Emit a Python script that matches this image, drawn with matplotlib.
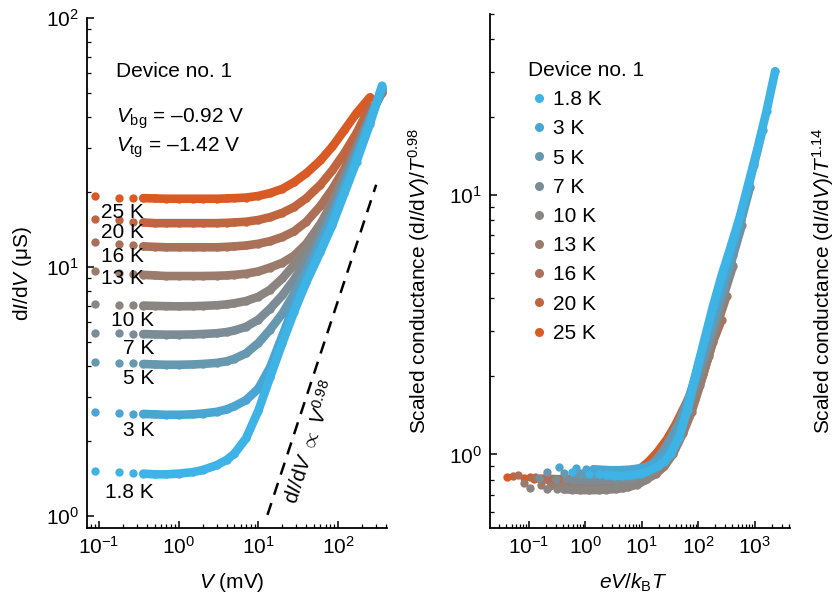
import matplotlib
matplotlib.use("Agg")
import matplotlib.pyplot as plt
import numpy as np
from matplotlib.lines import Line2D
from matplotlib.ticker import LogLocator

FS = 15
plt.rcParams["font.family"] = ["Liberation Sans", "DejaVu Sans"]
plt.rcParams["mathtext.fontset"] = "custom"
plt.rcParams["mathtext.rm"] = "Liberation Sans"
plt.rcParams["mathtext.it"] = "Liberation Sans:italic"
plt.rcParams["mathtext.bf"] = "Liberation Sans:bold"
plt.rcParams["font.size"] = FS

# temperatures (K) and curve colours, blue (cold) -> orange (hot)
temps = [1.8, 3, 5, 7, 10, 13, 16, 20, 25]
temp_labels = ["1.8 K", "3 K", "5 K", "7 K", "10 K", "13 K", "16 K", "20 K", "25 K"]
colors = ["#3db3e6", "#4aa5d2", "#6698b0", "#7c8c97", "#8b8582",
          "#9a7b6c", "#aa7058", "#c0653f", "#d95a24"]

# bias voltage (mV)
bias_mV = [0.09, 0.18, 0.27, 0.36, 0.5, 0.7, 1, 1.5, 2, 3, 4, 5, 7, 10,
           14, 20, 28, 40, 60, 85, 120, 170, 250, 355]

# dI/dV (uS) for each temperature on the bias grid above
G_1p8 = [1.52, 1.50, 1.49, 1.48, 1.47, 1.47, 1.48, 1.50, 1.53, 1.60, 1.68, 1.78,
         2.05, 2.65, 3.6, 4.95, 6.6, 8.7, 11.5, 14.8, 19.8, 26.5, 37.5, 53.5]
G_3 = [2.62, 2.60, 2.58, 2.57, 2.56, 2.55, 2.55, 2.56, 2.58, 2.62, 2.68, 2.76,
       2.92, 3.25, 3.95, 5.3, 7.0, 9.2, 12.2, 15.8, 20.8, 27.8, 38.5, 52.5]
G_5 = [4.15, 4.12, 4.10, 4.08, 4.06, 4.05, 4.05, 4.06, 4.08, 4.12, 4.18, 4.28,
       4.5, 4.95, 5.6, 6.5, 7.8, 9.8, 12.8, 16.3, 21.3, 28.3, 39.0, 52.0]
G_7 = [5.45, 5.42, 5.40, 5.38, 5.36, 5.35, 5.35, 5.36, 5.38, 5.42, 5.48, 5.56,
       5.75, 6.15, 6.8, 7.7, 8.9, 10.7, 13.5, 17.0, 22.0, 29.0, 39.5, 51.5]
G_10 = [7.10, 7.05, 7.02, 7.00, 6.98, 6.96, 6.95, 6.96, 6.98, 7.02, 7.08, 7.15,
        7.3, 7.6, 8.1, 9.0, 10.2, 12.0, 14.8, 18.3, 23.3, 30.0, 40.0, 51.0]
G_13 = [9.6, 9.45, 9.35, 9.3, 9.25, 9.2, 9.2, 9.2, 9.2, 9.22, 9.25, 9.3,
        9.4, 9.6, 9.95, 10.4, 11.1, 12.4, 14.9, 18.0, 22.8, 29.5, 40.0, 50.5]
G_16 = [12.6, 12.4, 12.2, 12.1, 12.05, 12.0, 12.0, 12.0, 12.0, 12.0, 12.05, 12.1,
        12.2, 12.4, 12.7, 13.2, 13.9, 15.2, 17.6, 20.6, 24.8, 31.0, 41.0, 50.0]
G_20 = [15.6, 15.4, 15.2, 15.1, 15.0, 15.0, 15.0, 15.0, 15.0, 15.0, 15.05, 15.1,
        15.2, 15.45, 15.85, 16.5, 17.4, 18.9, 21.4, 24.5, 28.7, 34.5, 44.0]
G_25 = [19.2, 19.0, 18.9, 18.9, 18.85, 18.8, 18.8, 18.8, 18.8, 18.8, 18.85, 18.9,
        19.0, 19.3, 19.8, 20.6, 21.9, 23.8, 26.8, 30.5, 35.5, 41.5, 48.0]
curves = [G_1p8, G_3, G_5, G_7, G_10, G_13, G_16, G_20, G_25]

# guide line dI/dV ~ V^0.98 (end points)
guide_V = [13.0, 300.0]
guide_G = [1.01, 21.4]

E_OVER_KB = 11.6045   # K per mV
ALPHA = 0.98
EN_DASH = "\u2013"

W, H = 838, 602


def fx(x):
    return x / W


def fy(y):
    return 1 - y / H


fig = plt.figure(figsize=(W / 100, H / 100), dpi=100)
axL = fig.add_axes([fx(87), fy(528), 300 / W, 510 / H])
axR = fig.add_axes([fx(490), fy(528), 300 / W, 514 / H])

for ax in (axL, axR):
    ax.set_xscale("log")
    ax.set_yscale("log")
    for axis in (ax.xaxis, ax.yaxis):
        axis.set_major_locator(LogLocator(base=10, numticks=15))
        axis.set_minor_locator(LogLocator(base=10, subs=np.arange(2, 10), numticks=15))
    for s in ("top", "right"):
        ax.spines[s].set_visible(False)
    for s in ("left", "bottom"):
        ax.spines[s].set_linewidth(1.3)
    ax.tick_params(which="major", direction="in", length=5, width=1.1, pad=6, labelsize=FS)
    ax.tick_params(which="minor", direction="in", length=3, width=0.9)

ms, lw = 6.0, 6.2
for T, G, c in reversed(list(zip(temps, curves, colors))):
    V = np.array(bias_mV[:len(G)])
    G = np.array(G)
    axL.plot(V[:3], G[:3], "o", ms=ms, color=c, mec="none")
    axL.plot(V[3:], G[3:], "-o", ms=ms, lw=lw, color=c, mec="none",
             solid_capstyle="round", solid_joinstyle="round")
    x = E_OVER_KB * V / T
    y = G / T ** ALPHA
    axR.plot(x[:3], y[:3], "o", ms=ms, color=c, mec="none")
    axR.plot(x[3:], y[3:], "-o", ms=ms, lw=lw, color=c, mec="none",
             solid_capstyle="round", solid_joinstyle="round")

axL.plot(guide_V, guide_G, ls=(0, (5, 3.5)), color="black", lw=1.8)
axL.text(45, 1.98, r"d$I$/d$V$ $\propto$ $V^{0.98}$", rotation=71.7,
         ha="center", va="center", fontsize=FS)

axL.set_xlim(0.071, 410)
axL.set_ylim(0.895, 100)
axR.set_xlim(0.0205, 4200)
axR.set_ylim(0.52, 50)

# left panel annotations
axL.text(0.097, 0.884, "Device no. 1", transform=axL.transAxes, va="baseline", fontsize=FS)
axL.text(0.097, 0.794, r"$V_{\rm bg}$ = " + EN_DASH + "0.92 V",
         transform=axL.transAxes, va="baseline", fontsize=FS)
axL.text(0.097, 0.737, r"$V_{\rm tg}$ = " + EN_DASH + "1.42 V",
         transform=axL.transAxes, va="baseline", fontsize=FS)

label_pos = {"25 K": (144, 212), "20 K": (144, 233), "16 K": (144, 257), "13 K": (144, 278),
             "10 K": (154, 320), "7 K": (154, 349), "5 K": (154, 378), "3 K": (154, 430),
             "1.8 K": (154, 493)}
for lab, (px, py) in label_pos.items():
    axL.text((px - 87) / 300, (528 - py) / 510, lab, transform=axL.transAxes,
             ha="right", va="center", fontsize=FS)

# axis labels
fig.text(fx(22), fy(273), r"d$I$/d$V$ (μS)", rotation=90, ha="center", va="center", fontsize=FS)
fig.text(fx(232), fy(582), r"$V$ (mV)", ha="center", va="center", fontsize=FS)
fig.text(fx(419), fy(281), r"Scaled conductance (d$I$/d$V$)/$T^{0.98}$", rotation=90,
         ha="center", va="center", fontsize=FS)
fig.text(fx(633), fy(583), r"$eV/k_{\rm B}T$", ha="center", va="center", fontsize=FS)
fig.text(fx(823), fy(281), r"Scaled conductance (d$I$/d$V$)/$T^{1.14}$", rotation=90,
         ha="center", va="center", fontsize=FS)

handles = [Line2D([], [], marker="o", ls="", color=c, mec="none", ms=6.5) for c in colors]
leg = axR.legend(handles, temp_labels, title="Device no. 1", loc="upper left",
                 bbox_to_anchor=(fx(528), fy(61)), bbox_transform=fig.transFigure,
                 frameon=False, borderpad=0, borderaxespad=0, handlelength=1.1,
                 handletextpad=0.1, labelspacing=0.49, fontsize=FS, title_fontsize=FS,
                 alignment="left")

fig.savefig("out.png", dpi=100)
